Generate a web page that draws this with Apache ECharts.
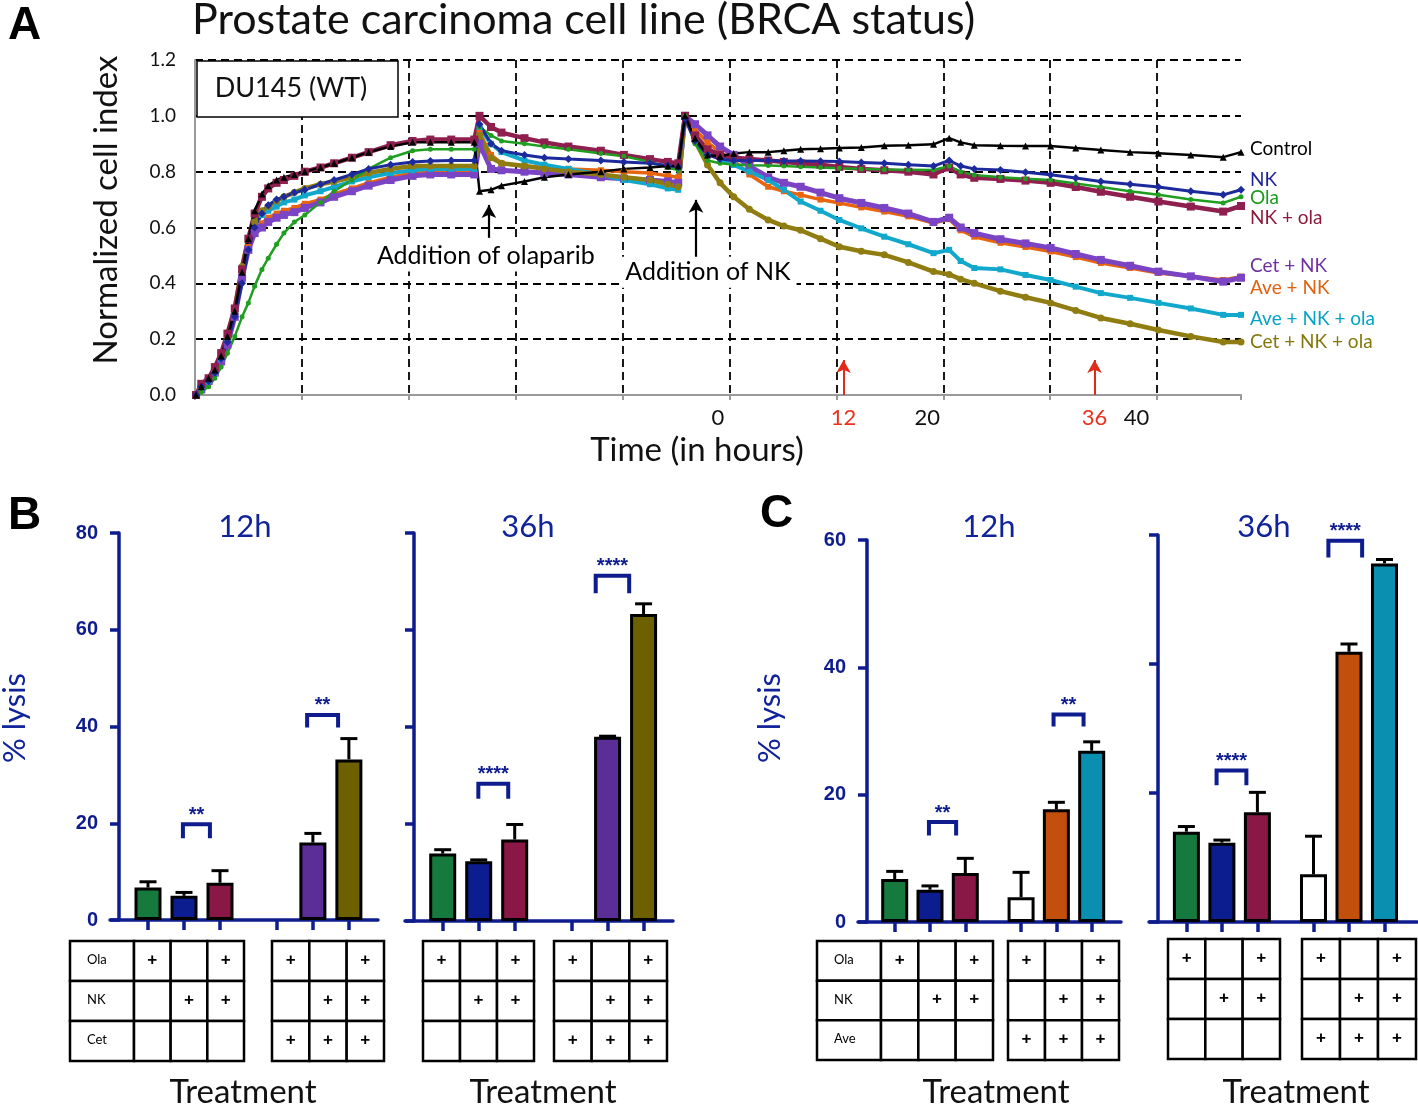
<!DOCTYPE html>
<html><head><meta charset="utf-8">
<script src="https://cdn.jsdelivr.net/npm/echarts@6/dist/echarts.min.js"></script>
<style>html,body{margin:0;padding:0;background:#fff}#c{width:1418px;height:1106px}</style>
</head><body><div id="c"></div><script>
// ---------------- DATA ----------------
const hours = [-49.9,-49.4,-48.7,-48.1,-47.5,-46.9,-46.2,-45.5,-44.9,-44.3,-43.6,-43.0,-42.2,-41.5,-40.5,-39.5,-38.0,-36.7,-35.0,-33.4,-31.3,-29.2,-27.5,-25.5,-23.3,-22.8,-21.7,-20.7,-18.5,-16.6,-14.3,-11.2,-9.0,-6.5,-4.8,-3.8,-3.15,-2.2,-1.0,0.2,1.5,3.0,4.8,6.3,7.9,9.8,11.6,13.7,15.9,18.2,20.6,22.1,23.2,24.5,27.0,29.4,31.8,34.2,36.6,39.4,42.1,45.2,48.3,50.0];
const control = [0.0,0.03,0.06,0.09,0.14,0.21,0.30,0.44,0.56,0.66,0.72,0.75,0.77,0.78,0.79,0.80,0.815,0.83,0.85,0.87,0.89,0.905,0.905,0.905,0.905,0.73,0.735,0.75,0.765,0.78,0.79,0.80,0.81,0.815,0.82,0.82,1.0,0.92,0.86,0.855,0.865,0.87,0.87,0.875,0.88,0.882,0.885,0.887,0.893,0.895,0.898,0.92,0.905,0.895,0.893,0.892,0.892,0.885,0.878,0.87,0.866,0.86,0.852,0.87];
const nk = [0.0,0.03,0.05,0.08,0.13,0.19,0.28,0.40,0.52,0.60,0.65,0.68,0.70,0.71,0.725,0.735,0.755,0.77,0.79,0.81,0.825,0.835,0.838,0.84,0.84,0.97,0.90,0.875,0.86,0.85,0.845,0.84,0.835,0.83,0.822,0.817,0.99,0.91,0.86,0.845,0.84,0.84,0.84,0.838,0.838,0.837,0.836,0.833,0.83,0.825,0.82,0.84,0.82,0.81,0.806,0.798,0.789,0.777,0.765,0.755,0.745,0.73,0.717,0.735];
const ola = [0.0,0.01,0.03,0.06,0.10,0.15,0.21,0.28,0.33,0.39,0.45,0.49,0.54,0.58,0.62,0.645,0.69,0.73,0.77,0.81,0.85,0.875,0.88,0.88,0.88,0.96,0.93,0.91,0.90,0.89,0.88,0.865,0.855,0.835,0.815,0.806,1.0,0.90,0.84,0.83,0.826,0.823,0.822,0.82,0.818,0.815,0.812,0.81,0.808,0.807,0.806,0.82,0.80,0.788,0.78,0.775,0.77,0.758,0.745,0.73,0.717,0.70,0.688,0.71];
const nkOla = [0.0,0.04,0.06,0.10,0.15,0.22,0.31,0.45,0.56,0.65,0.71,0.74,0.76,0.77,0.785,0.80,0.815,0.83,0.85,0.87,0.895,0.91,0.915,0.915,0.915,1.0,0.96,0.94,0.92,0.905,0.89,0.875,0.86,0.845,0.835,0.83,1.0,0.93,0.88,0.86,0.85,0.845,0.84,0.835,0.83,0.825,0.817,0.81,0.805,0.80,0.79,0.815,0.79,0.778,0.774,0.768,0.76,0.745,0.728,0.71,0.693,0.675,0.657,0.677];
const cetNk = [0.0,0.02,0.05,0.08,0.12,0.18,0.28,0.42,0.52,0.58,0.60,0.62,0.635,0.645,0.655,0.67,0.69,0.71,0.73,0.75,0.77,0.785,0.79,0.79,0.79,0.90,0.81,0.805,0.80,0.795,0.79,0.78,0.775,0.77,0.765,0.76,1.0,0.97,0.93,0.89,0.86,0.82,0.78,0.76,0.746,0.725,0.705,0.688,0.67,0.65,0.62,0.635,0.60,0.58,0.558,0.543,0.527,0.505,0.484,0.463,0.442,0.425,0.406,0.42];
const aveNk = [0.0,0.02,0.05,0.08,0.12,0.19,0.29,0.43,0.53,0.59,0.615,0.635,0.65,0.66,0.67,0.685,0.70,0.72,0.74,0.76,0.78,0.795,0.80,0.80,0.80,0.94,0.86,0.83,0.82,0.815,0.81,0.805,0.80,0.795,0.785,0.78,1.0,0.95,0.905,0.87,0.84,0.79,0.746,0.73,0.717,0.70,0.688,0.672,0.657,0.64,0.616,0.63,0.59,0.567,0.545,0.53,0.514,0.494,0.473,0.455,0.437,0.425,0.412,0.424];
const aveNkOla = [0.0,0.02,0.05,0.08,0.13,0.20,0.30,0.45,0.56,0.62,0.645,0.66,0.675,0.69,0.70,0.715,0.73,0.745,0.765,0.78,0.795,0.805,0.81,0.81,0.81,0.96,0.90,0.87,0.84,0.825,0.81,0.79,0.77,0.755,0.74,0.735,1.0,0.93,0.87,0.845,0.824,0.80,0.77,0.735,0.693,0.66,0.627,0.597,0.567,0.54,0.508,0.52,0.48,0.455,0.45,0.43,0.412,0.388,0.365,0.348,0.33,0.31,0.287,0.287];
const cetNkOla = [0.0,0.03,0.06,0.09,0.14,0.21,0.31,0.46,0.56,0.62,0.66,0.675,0.695,0.71,0.725,0.74,0.755,0.765,0.78,0.795,0.81,0.82,0.82,0.82,0.82,0.93,0.85,0.83,0.82,0.81,0.80,0.79,0.78,0.77,0.755,0.746,1.0,0.91,0.824,0.76,0.71,0.665,0.627,0.605,0.59,0.56,0.531,0.515,0.502,0.475,0.442,0.432,0.415,0.40,0.372,0.35,0.33,0.303,0.276,0.255,0.233,0.21,0.19,0.19];

const timeTickValues = [0, 12, 20, 36, 40];
const highlightedTicks = [12, 36];
const yTickLabelsA = ['0.0','0.2','0.4','0.6','0.8','1.0','1.2'];

const treatmentsB = ['Ola','NK','NK + ola','Ola + Cet','Cet + NK','Cet + NK + ola'];
const treatmentsC = ['Ola','NK','NK + ola','Ola + Ave','Ave + NK','Ave + NK + ola'];
const lysisB12 = [6.7, 5.0, 7.7, null, 16.0, 33.2];
const sdB12    = [1.2, 0.7, 2.5, null, 1.9, 4.3];
const lysisB36 = [13.9, 12.3, 16.8, null, 38.0, 63.3];
const sdB36    = [0.8, 0.3, 3.1, null, 0.1, 2.1];
const lysisC12 = [6.75, 5.07, 7.7, 3.9, 17.7, 26.9];
const sdC12    = [1.2, 0.6, 2.3, 3.9, 1.1, 1.4];
const lysisC36 = [14.0, 12.3, 17.0, 7.4, 41.9, 55.6];
const sdC36    = [0.8, 0.4, 3.1, 5.9, 1.2, 0.6];
const sigB12 = ['**', '**'];
const sigB36 = ['****', '****'];
const sigC12 = ['**', '**'];
const sigC36 = ['****', '****'];

const rowLabelsB = ['Ola', 'NK', 'Cet'];
const rowLabelsC = ['Ola', 'NK', 'Ave'];
const signsGroup1 = [['+','','+'], ['','+','+'], ['','','']];
const signsGroup2 = [['+','','+'], ['','+','+'], ['+','+','+']];

// ---------------- STYLE / LAYOUT ----------------
const FONT = 'Lato, "Open Sans", sans-serif';
const BOLD = '"Liberation Sans", Arial, sans-serif';
const AXIS_BLUE = '#0e1c8e';
const TEXT_BLUE = '#10239a';
const slotOffsets = [0, 1, 2, 3.58, 4.58, 5.58];
const barColorsB = ['#167a3e', '#0b1d8f', '#8a1846', '#ffffff', '#5b2d96', '#6c6000'];
const barColorsC = ['#167a3e', '#0b1d8f', '#8a1846', '#ffffff', '#c2500c', '#0a8fb0'];

const lineDefs = [
  {name:'Ave + NK', data:aveNk, color:'#e8650f', label:'#e0620f', symbol:'rect', size:6, w:3.5, dy:11},
  {name:'Cet + NK', data:cetNk, color:'#7a44c4', label:'#7030a0', symbol:'rect', size:8, w:5, dy:-12},
  {name:'Ave + NK + ola', data:aveNkOla, color:'#12a8cc', label:'#05a3c5', symbol:'rect', size:6, w:4, dy:4},
  {name:'Cet + NK + ola', data:cetNkOla, color:'#8f7d12', label:'#85770a', symbol:'circle', size:7, w:4.5, dy:0},
  {name:'NK + ola', data:nkOla, color:'#8e1f4f', label:'#8c1a3c', symbol:'rect', size:8, w:4.5, dy:12},
  {name:'Ola', data:ola, color:'#1f9e1f', label:'#1c9a1c', symbol:'circle', size:5, w:2.5, dy:1},
  {name:'NK', data:nk, color:'#1c2a9c', label:'#1a1f9a', symbol:'diamond', size:8, w:3, dy:-10},
  {name:'Control', data:control, color:'#000000', label:'#000000', symbol:'triangle', size:7, w:2.5, dy:-3}
];

const grids = [], xAxes = [], yAxes = [], series = [], graphics = [];

// ---------------- PANEL A ----------------
grids.push({left:195, top:60, width:1046, height:335});
xAxes.push({gridIndex:0, type:'value', position:'bottom', min:-50, max:50,
  axisLine:{show:false}, axisTick:{show:false}, splitLine:{show:false},
  axisLabel:{customValues: timeTickValues, margin:12, fontSize:22, fontFamily:FONT, color:'#111',
    formatter: v => highlightedTicks.includes(v) ? '{r|' + v + '}' : String(v),
    rich:{r:{color:'#e8321f', fontSize:22, fontFamily:FONT}}}});
xAxes.push({gridIndex:0, type:'value', position:'bottom', min:0, max:1046/106.9, interval:1,
  axisLine:{show:true, onZero:false, lineStyle:{color:'#9a9a9a', width:2}},
  axisTick:{show:true, length:5, lineStyle:{color:'#9a9a9a', width:2}},
  axisLabel:{show:false},
  splitLine:{show:true, showMaxLine:false, lineStyle:{color:'#000', type:[8,5], width:1.8}}});
yAxes.push({gridIndex:0, type:'value', position:'left', min:0, max:1.2, interval:0.2,
  axisLine:{show:true, onZero:false, lineStyle:{color:'#9a9a9a', width:2}}, axisTick:{show:false},
  axisLabel:{formatter:(v) => yTickLabelsA[Math.round(v/0.2)], fontSize:19, fontFamily:FONT, color:'#111', margin:19},
  splitLine:{lineStyle:{color:'#000', type:[8,5], width:1.8}}});

lineDefs.forEach(d => {
  series.push({type:'line', name:d.name, xAxisIndex:0, yAxisIndex:0,
    data: hours.map((h, i) => [h, d.data[i]]),
    symbol:d.symbol, symbolSize:d.size, showAllSymbol:true,
    lineStyle:{color:d.color, width:d.w}, itemStyle:{color:d.color, opacity:1},
    endLabel:{show:true, formatter:d.name, color:d.label, fontSize:19, fontFamily:FONT, distance:9, offset:[0, d.dy]},
    silent:true});
});

// annotations: arrows + texts
series.push({type:'scatter', xAxisIndex:0, yAxisIndex:0, symbolSize:1, silent:true, z:5,
  itemStyle:{opacity:1, color:'#fff'},
  data:[{value:[-22.2, 0.498], name:'Addition of olaparib'}, {value:[-0.96, 0.44], name:'Addition of NK'}],
  label:{show:true, position:'inside', formatter:p => p.name, fontSize:25, fontFamily:FONT, color:'#000',
    backgroundColor:'#fff', padding:[3,6]},
  markLine:{silent:true, symbol:['none','arrow'], symbolSize:[11,13], label:{show:false},
    data:[
      [{coord:[-21.9, 0.563], lineStyle:{color:'#000', width:2.2, type:'solid'}}, {coord:[-21.9, 0.681]}],
      [{coord:[-2.1, 0.491], lineStyle:{color:'#000', width:2.2, type:'solid'}}, {coord:[-2.1, 0.699]}],
      [{coord:[12, 0.0], lineStyle:{color:'#e02a1a', width:2, type:'solid'}}, {coord:[12, 0.125]}],
      [{coord:[36, 0.0], lineStyle:{color:'#e02a1a', width:2, type:'solid'}}, {coord:[36, 0.125]}]
    ]}});

// ---------------- BAR PANELS ----------------
function addBarPanel(p) {
  const g = grids.length;
  const u = p.unit;
  const axisLeft = p.yAxisX - 9;
  grids.push({left:axisLeft, top:p.top, width:p.rightX - axisLeft, height:p.bottom - p.top});
  const xi = xAxes.length, yi = yAxes.length;
  const pos = slotOffsets.map(s => p.firstOffset / u + s);
  xAxes.push({gridIndex:g, type:'value', position:'bottom', min:-9/u, max:(p.rightX - p.yAxisX)/u,
    axisLine:{show:true, lineStyle:{color:AXIS_BLUE, width:3.5}},
    axisTick:{show:true, customValues:pos, length:10, lineStyle:{color:AXIS_BLUE, width:3.5}},
    axisLabel:{show:false}, splitLine:{show:false}});
  yAxes.push({gridIndex:g, type:'value', position:'left', min:0, max:p.ymax, interval:20,
    axisLine:{show:true, onZero:true, lineStyle:{color:AXIS_BLUE, width:3.5}},
    axisTick:{show:true, length:9, lineStyle:{color:AXIS_BLUE, width:3.5}},
    axisLabel:{show:p.showLabels, fontSize:20, fontWeight:'bold', fontFamily:BOLD, color:AXIS_BLUE, margin:12},
    splitLine:{show:false}});
  // error bars
  series.push({type:'custom', xAxisIndex:xi, yAxisIndex:yi, silent:true, z:2,
    data: pos.map((x, i) => p.values[i] == null ? null : [x, p.values[i], p.values[i] + p.sds[i]]).filter(Boolean),
    encode:{x:0, y:[1,2]},
    renderItem:(params, api) => {
      const b = api.coord([api.value(0), api.value(1)]);
      const t = api.coord([api.value(0), api.value(2)]);
      return {type:'group', children:[
        {type:'line', shape:{x1:b[0], y1:b[1], x2:t[0], y2:t[1]}, style:{stroke:'#000', lineWidth:3}},
        {type:'line', shape:{x1:t[0]-8.5, y1:t[1], x2:t[0]+8.5, y2:t[1]}, style:{stroke:'#000', lineWidth:3}}
      ]};
    }});
  // bars
  series.push({type:'bar', xAxisIndex:xi, yAxisIndex:yi, barWidth:27, silent:true, z:3,
    itemStyle:{borderColor:'#000', borderWidth:3},
    data: pos.map((x, i) => p.values[i] == null ? null : {value:[x, p.values[i]], itemStyle:{color:p.colors[i]}}).filter(Boolean)});
  // significance brackets
  const br = p.brackets.map(b => [b.x1 + p.firstOffset/u, b.x2 + p.firstOffset/u, b.top, b.leg]);
  series.push({type:'custom', xAxisIndex:xi, yAxisIndex:yi, silent:true, z:4,
    data: br, encode:{x:[0,1], y:[2,3]},
    renderItem:(params, api) => {
      const a = api.coord([api.value(0), api.value(3)]);
      const b = api.coord([api.value(0), api.value(2)]);
      const c = api.coord([api.value(1), api.value(2)]);
      const d = api.coord([api.value(1), api.value(3)]);
      return {type:'group', children:[
        {type:'polyline', shape:{points:[a,b,c,d]}, style:{stroke:AXIS_BLUE, lineWidth:4, fill:null, lineJoin:'miter'}},
        {type:'text', x:(b[0]+c[0])/2, y:b[1]+1, style:{text:p.sig[params.dataIndex], fill:AXIS_BLUE, font:'bold 20px ' + BOLD, textAlign:'center', textVerticalAlign:'bottom'}}
      ]};
    }});
}

addBarPanel({yAxisX:119, rightX:378, top:533, bottom:920, unit:36, firstOffset:29, ymax:80, showLabels:true,
  values:lysisB12, sds:sdB12, colors:barColorsB, sig:sigB12,
  brackets:[{x1:0.97, x2:1.72, top:19.8, leg:16.9}, {x1:4.42, x2:5.28, top:42.4, leg:39.8}]});
addBarPanel({yAxisX:414, rightX:673, top:533, bottom:921, unit:36, firstOffset:28.7, ymax:80, showLabels:false,
  values:lysisB36, sds:sdB36, colors:barColorsB, sig:sigB36,
  brackets:[{x1:0.99, x2:1.82, top:28.3, leg:25.2}, {x1:4.25, x2:5.18, top:71.2, leg:67.6}]});
addBarPanel({yAxisX:867, rightX:1121, top:540, bottom:922, unit:35.3, firstOffset:27.7, ymax:60, showLabels:true,
  values:lysisC12, sds:sdC12, colors:barColorsC, sig:sigC12,
  brackets:[{x1:0.97, x2:1.74, top:15.7, leg:13.6}, {x1:4.5, x2:5.35, top:32.6, leg:30.7}]});
addBarPanel({yAxisX:1158, rightX:1417, top:535, bottom:922, unit:35.5, firstOffset:28.4, ymax:60, showLabels:false,
  values:lysisC36, sds:sdC36, colors:barColorsC, sig:sigC36,
  brackets:[{x1:0.85, x2:1.69, top:23.5, leg:21.2}, {x1:4.0, x2:4.95, top:59.1, leg:56.5}]});

// ---------------- TABLES ----------------
function addTable(t) {
  const g = grids.length;
  grids.push({left:t.left, top:t.top, width:t.right - t.left, height:t.bottom - t.top});
  const cellW = (t.right - (t.labelRight || t.left)) / 3;
  const lf = t.labelRight ? (t.labelRight - t.left) / cellW : 0;
  const xi = xAxes.length, yi = yAxes.length;
  xAxes.push({gridIndex:g, type:'value', min:0, max:lf + 3, show:false});
  yAxes.push({gridIndex:g, type:'value', min:0, max:3, inverse:true, show:false});
  const cells = [], texts = [];
  for (let r = 0; r < 3; r++) {
    if (t.rowLabels) { cells.push([0, lf, r]); texts.push({text:t.rowLabels[r], isLabel:true}); }
    for (let c = 0; c < 3; c++) { cells.push([lf + c, lf + c + 1, r]); texts.push({text:t.signs[r][c], isLabel:false}); }
  }
  series.push({type:'custom', xAxisIndex:xi, yAxisIndex:yi, silent:true, data:cells, encode:{x:[0,1], y:2},
    renderItem:(params, api) => {
      const a = api.coord([api.value(0), api.value(2)]);
      const b = api.coord([api.value(1), api.value(2) + 1]);
      const tx = texts[params.dataIndex];
      const children = [{type:'rect', shape:{x:a[0], y:a[1], width:b[0]-a[0], height:b[1]-a[1]}, style:{stroke:'#000', lineWidth:2.5, fill:'#fff'}}];
      if (tx.text) children.push({type:'text', z2:5,
        x: tx.isLabel ? a[0] + 17 : (a[0]+b[0])/2, y:(a[1]+b[1])/2 - 1,
        style:{text:tx.text, fill:'#000', font: tx.isLabel ? '13px ' + FONT : 'bold 17px ' + BOLD,
          textAlign: tx.isLabel ? 'left' : 'center', textVerticalAlign:'middle'}});
      return {type:'group', children};
    }});
}
addTable({left:70, labelRight:134, right:244, top:941, bottom:1061, rowLabels:rowLabelsB, signs:signsGroup1});
addTable({left:272, right:384, top:941, bottom:1061, signs:signsGroup2});
addTable({left:423, right:534, top:941, bottom:1061, signs:signsGroup1});
addTable({left:554, right:667, top:941, bottom:1061, signs:signsGroup2});
addTable({left:817, labelRight:881, right:993, top:941, bottom:1060, rowLabels:rowLabelsC, signs:signsGroup1});
addTable({left:1008, right:1119, top:941, bottom:1060, signs:signsGroup2});
addTable({left:1168, right:1280, top:939, bottom:1059, signs:signsGroup1});
addTable({left:1302, right:1416, top:939, bottom:1059, signs:signsGroup2});

// ---------------- STATIC TEXT ----------------
function txt(text, x, y, font, fill, align, rot) {
  graphics.push({type:'text', x, y, rotation: rot || 0, z:10, silent:true,
    style:{text, font, fill, textAlign: align || 'center', textVerticalAlign:'middle'}});
}
txt('A', 8, 26, 'bold 46px ' + BOLD, '#000', 'left');
txt('B', 8, 516, 'bold 46px ' + BOLD, '#000', 'left');
txt('C', 760, 514, 'bold 46px ' + BOLD, '#000', 'left');
txt('Prostate carcinoma cell line (BRCA status)', 192, 20, '43px ' + FONT, '#111', 'left');
txt('Normalized cell index', 106, 210, '33px ' + FONT, '#111', 'center', Math.PI/2);
txt('Time (in hours)', 697, 450, '33px ' + FONT, '#111', 'center');
txt('12h', 245, 527, '31px ' + FONT, TEXT_BLUE);
txt('36h', 528, 527, '31px ' + FONT, TEXT_BLUE);
txt('12h', 989, 527, '31px ' + FONT, TEXT_BLUE);
txt('36h', 1264, 527, '31px ' + FONT, TEXT_BLUE);
txt('% lysis', 15, 718, '31px ' + FONT, TEXT_BLUE, 'center', Math.PI/2);
txt('% lysis', 770, 718, '31px ' + FONT, TEXT_BLUE, 'center', Math.PI/2);
txt('Treatment', 243, 1092, '33px ' + FONT, '#111');
txt('Treatment', 543, 1092, '33px ' + FONT, '#111');
txt('Treatment', 996, 1092, '33px ' + FONT, '#111');
txt('Treatment', 1296, 1092, '33px ' + FONT, '#111');
graphics.push({type:'rect', z:9, silent:true, shape:{x:197, y:61, width:201, height:56}, style:{fill:'#fff', stroke:'#000', lineWidth:1.5}});
txt('DU145 (WT)', 291, 88, '27px ' + FONT, '#111');

const chart = echarts.init(document.getElementById('c'), null, {renderer:'canvas'});
chart.setOption({animation:false, backgroundColor:'#fff', grid:grids, xAxis:xAxes, yAxis:yAxes, series, graphic:graphics});
</script></body></html>
